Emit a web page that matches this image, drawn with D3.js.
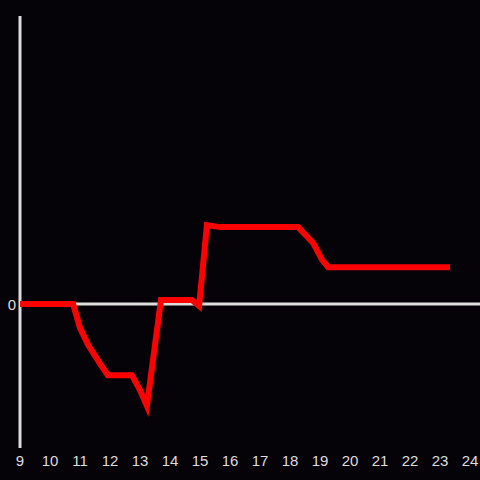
<!DOCTYPE html>
<html>
<head>
<meta charset="utf-8">
<script src="https://cdn.jsdelivr.net/npm/d3@7"></script>
<style>
  html, body { margin: 0; padding: 0; background: #050308; }
  text { font-family: "Liberation Sans", Arial, sans-serif; }
</style>
</head>
<body>
<div id="chart"></div>
<script>
// data
var hours  = [9, 10.77, 11.0, 11.27, 11.67, 11.93, 12.73, 13.0, 13.23, 13.7, 14.73, 14.97, 15.23, 15.67, 18.27, 18.77, 19.07, 19.27, 23.33];
var values = [0, 0, -8.3, -14.2, -20.8, -24.7, -24.7, -29.9, -35.4, 1.4, 1.4, -0.7, 27.4, 26.7, 26.7, 21.2, 15.3, 12.8, 12.8];
var xTicks = [9, 10, 11, 12, 13, 14, 15, 16, 17, 18, 19, 20, 21, 22, 23, 24];
var yTicks = [0];

var width = 480, height = 480;

var svg = d3.select("#chart")
  .append("svg")
  .attr("width", width)
  .attr("height", height);

svg.append("rect")
  .attr("width", width)
  .attr("height", height)
  .attr("fill", "#050308");

var x = d3.scaleLinear().domain([9, 24]).range([20, 470]);
var y = d3.scaleLinear().domain([-50, 100]).range([448, 16]);

// y axis line
svg.append("line")
  .attr("x1", x(9)).attr("x2", x(9))
  .attr("y1", y(100)).attr("y2", y(-50))
  .attr("stroke", "#dddddd")
  .attr("stroke-width", 3);

// zero line
svg.append("line")
  .attr("x1", x(9)).attr("x2", width)
  .attr("y1", y(0)).attr("y2", y(0))
  .attr("stroke", "#dddddd")
  .attr("stroke-width", 3);

// x tick labels
svg.selectAll("text.xt")
  .data(xTicks)
  .enter()
  .append("text")
  .attr("class", "xt")
  .attr("x", function(d){ return x(d) })
  .attr("y", 466)
  .attr("text-anchor", "middle")
  .attr("font-size", "15px")
  .attr("fill", "#dddddd")
  .text(function(d){ return d });

// y tick labels
svg.selectAll("text.yt")
  .data(yTicks)
  .enter()
  .append("text")
  .attr("class", "yt")
  .attr("x", 16)
  .attr("y", function(d){ return y(d) + 5.5 })
  .attr("text-anchor", "end")
  .attr("font-size", "15px")
  .attr("fill", "#dddddd")
  .text(function(d){ return d });

var line = d3.line()
  .x(function(d, i){ return x(hours[i]) })
  .y(function(d){ return y(d) });

svg.append("path")
  .datum(values)
  .attr("d", line)
  .attr("fill", "none")
  .attr("stroke", "#ff0000")
  .attr("stroke-width", 6)
  .attr("stroke-linejoin", "miter");
</script>
</body>
</html>
